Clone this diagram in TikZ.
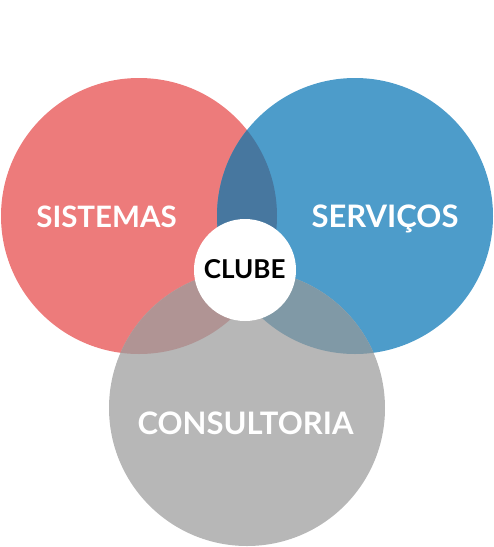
\documentclass[tikz,border=0pt]{standalone}
\usepackage{fontspec}
\setmainfont{Lato}
\definecolor{sistred}{HTML}{ED7B7B}
\definecolor{servblue}{HTML}{4D9CCA}
\definecolor{consgray}{HTML}{B7B7B7}
\definecolor{rbmix}{HTML}{47779F}
\definecolor{rgmix}{HTML}{B09494}
\definecolor{bgmix}{HTML}{8099A6}
\begin{document}
\begin{tikzpicture}[x=1pt,y=-1pt,
  lbl/.style={text=white,anchor=base,font=\bfseries\fontsize{31}{33}\selectfont}]
\useasboundingbox (0,0) rectangle (494,547);

\fill[sistred] (139,216) circle (138);
\fill[servblue] (355,216) circle (138);
\fill[consgray] (247,408) circle (138);

\begin{scope}
\clip (139,216) circle (138);
\fill[rbmix] (355,216) circle (138);
\fill[rgmix] (247,408) circle (138);
\end{scope}
\begin{scope}
\clip (355,216) circle (138);
\fill[bgmix] (247,408) circle (138);
\end{scope}

\fill[white] (245,270) circle (51);

\node[lbl,font=\bfseries\fontsize{29.5}{31}\selectfont] (sistemas) at (106.5,227) {SISTEMAS};
\node[lbl] (servicos) at (385,227) {SERVIÇOS};
\node[lbl] (consultoria) at (245.5,434) {CONSULTORIA};
\node[anchor=base,font=\bfseries\fontsize{26}{28}\selectfont] (clube) at (244.7,278) {CLUBE};
\end{tikzpicture}
\end{document}
